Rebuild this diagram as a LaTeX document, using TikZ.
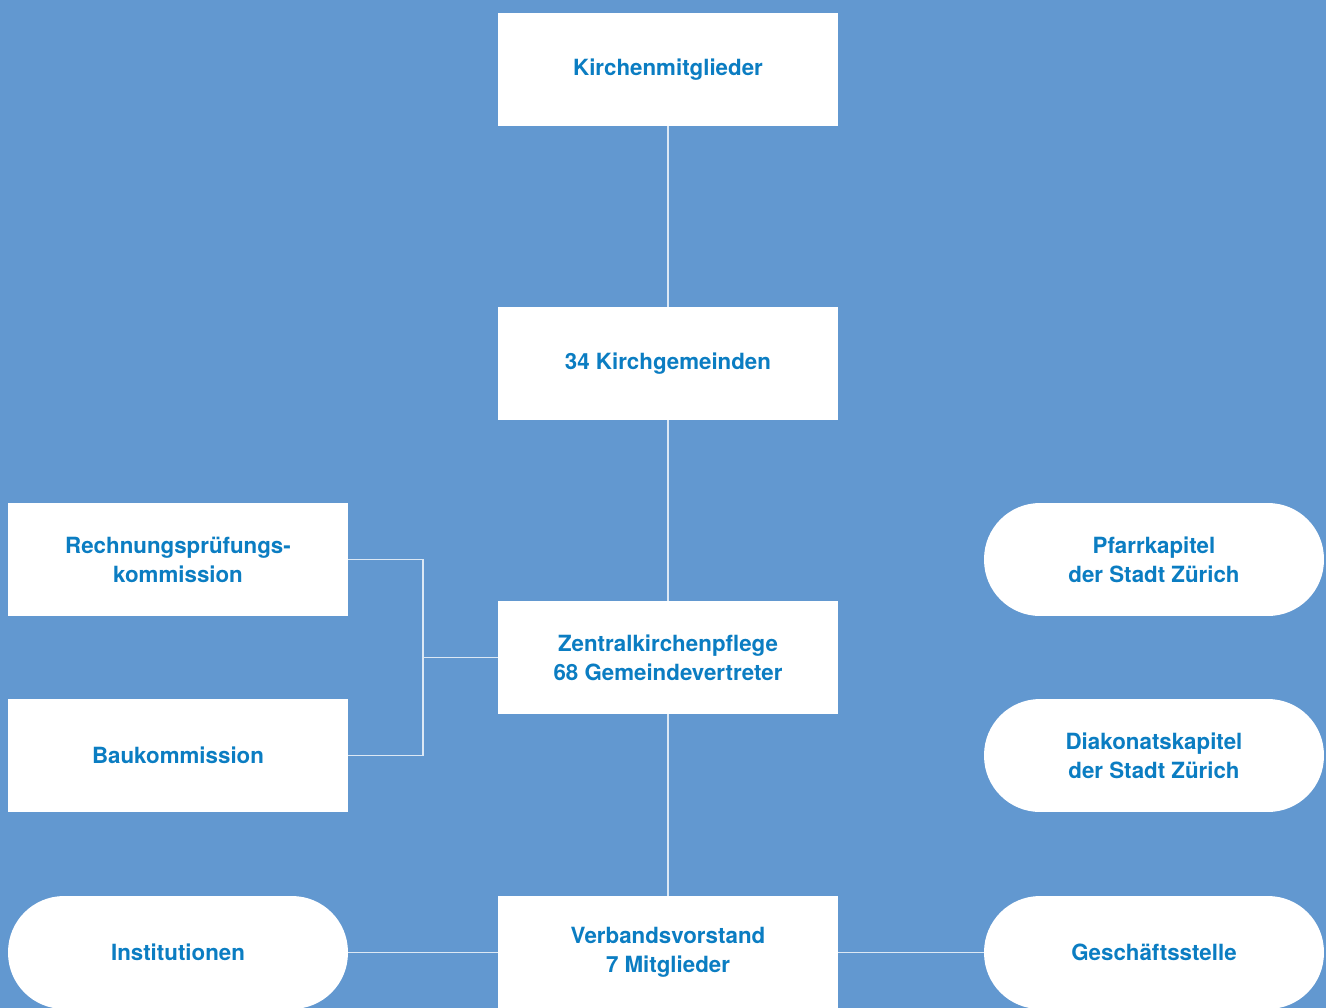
\documentclass[tikz,border=0pt]{standalone}
\usepackage{fontspec}
\setmainfont{TeX Gyre Heros}
\definecolor{bgblue}{HTML}{6298D0}
\definecolor{txtblue}{HTML}{0B7DC2}
\definecolor{linegray}{HTML}{DCE8F4}
\begin{document}
\begin{tikzpicture}[x=0.02cm, y=-0.02cm,
    box/.style={rectangle, fill=white, minimum width=6.8cm, minimum height=2.26cm,
        inner sep=0pt, align=center, text=txtblue,
        font=\fontsize{12.7}{16.5}\selectfont\bfseries},
    pill/.style={box, rounded corners=1.12cm},
    link/.style={draw=linegray, line width=1.1pt}]
\fill[bgblue] (0,0) rectangle (1326,1008);
\useasboundingbox (0,0) rectangle (1326,1008);
% middle column
\node[box] (mitglieder) at (668,69.5) {Kirchenmitglieder};
\node[box] (gemeinden) at (668,363.5) {34 Kirchgemeinden};
\node[box] (zentral) at (668,657.5) {Zentralkirchenpflege\\68 Gemeindevertreter};
\node[box] (vorstand) at (668,952.5) {Verbandsvorstand\\7 Mitglieder};
% left column
\node[box] (rpk) at (178,559.5) {Rechnungsprüfungs-\\kommission};
\node[box] (bau) at (178,755.5) {Baukommission};
\node[pill] (inst) at (178,952.5) {Institutionen};
% right column
\node[pill] (pfarr) at (1154,559.5) {Pfarrkapitel\\der Stadt Zürich};
\node[pill] (diakon) at (1154,755.5) {Diakonatskapitel\\der Stadt Zürich};
\node[pill] (gs) at (1154,952.5) {Geschäftsstelle};
\coordinate (knick) at (423,657.5);
\draw[link] (mitglieder) -- (gemeinden);
\draw[link] (gemeinden) -- (zentral);
\draw[link] (zentral) -- (vorstand);
\draw[link] (rpk.east) -| (knick) |- (bau.east);
\draw[link] (knick) -- (zentral.west);
\draw[link] (inst) -- (vorstand);
\draw[link] (vorstand) -- (gs);
\end{tikzpicture}
\end{document}
